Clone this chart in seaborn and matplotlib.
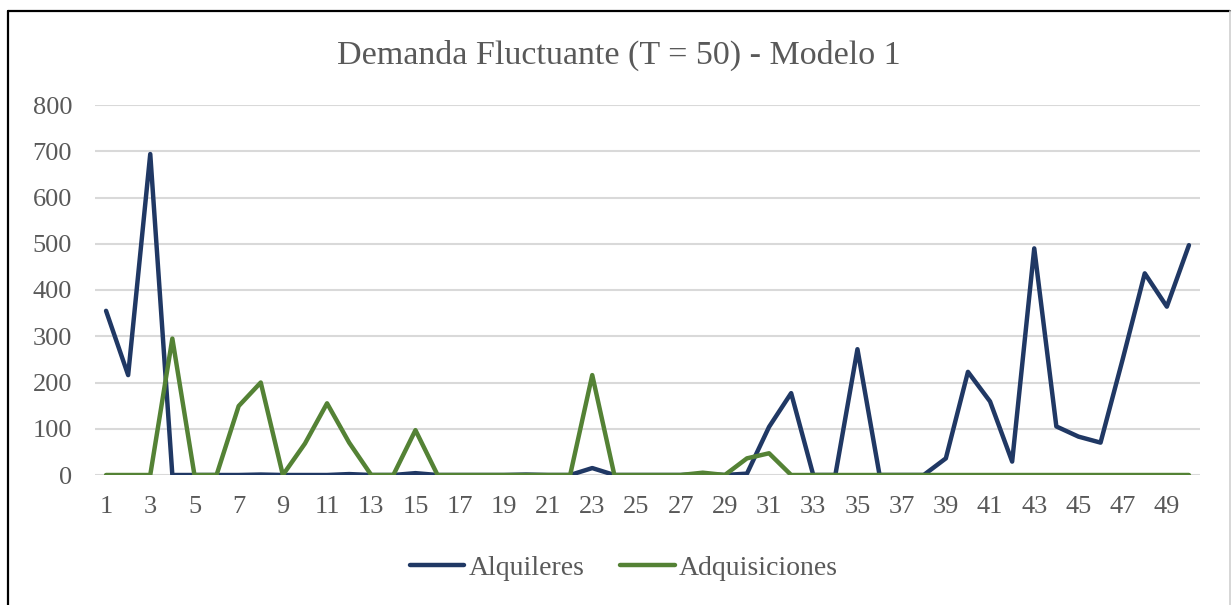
import matplotlib
matplotlib.use("Agg")
import matplotlib.pyplot as plt
from matplotlib.lines import Line2D
import seaborn as sns
import pandas as pd
import numpy as np

periods = list(range(1, 51))
alquileres = [355, 216, 694, 0, 0, 0, 0, 1, 0, 0,
              0, 2, 0, 0, 4, 0, 0, 0, 0, 1,
              0, 0, 15, 0, 0, 0, 0, 2, 0, 3,
              104, 177, 0, 0, 272, 0, 0, 0, 36, 223,
              159, 29, 490, 105, 83, 70, 250, 436, 364, 497]
adquisiciones = [0, 0, 0, 295, 0, 0, 149, 200, 0, 68,
                 155, 70, 0, 0, 97, 0, 0, 0, 0, 0,
                 0, 0, 216, 0, 0, 0, 0, 5, 0, 36,
                 47, 0, 0, 0, 0, 0, 0, 0, 0, 0,
                 0, 0, 0, 0, 0, 0, 0, 0, 0, 0]
series_names = ["Alquileres", "Adquisiciones"]
title = "Demanda Fluctuante (T = 50) - Modelo 1"
yticks = [0, 100, 200, 300, 400, 500, 600, 700, 800]
xtick_labels = [str(p) for p in periods if p % 2 == 1]

df = pd.DataFrame({
    "Periodo": periods * 2,
    "Valor": alquileres + adquisiciones,
    "Serie": [series_names[0]] * len(periods) + [series_names[1]] * len(periods),
})

sns.set_theme(style="white")
plt.rcParams["font.family"] = ["Liberation Serif", "DejaVu Serif"]
text_color = "#595959"

fig = plt.figure(figsize=(12.32, 6.05), dpi=100)
ax = fig.add_axes([95 / 1232, 130 / 605, 1105 / 1232, 370 / 605])

sns.lineplot(data=df, x="Periodo", y="Valor", hue="Serie", ax=ax,
             palette={"Alquileres": "#203864", "Adquisiciones": "#548235"},
             linewidth=3.2, legend=False)

ax.set_xlim(0.5, 50.5)
ax.set_ylim(0, 800)
ax.set_yticks(yticks)
ax.set_yticklabels([str(v) for v in yticks])
ax.set_xticks([p for p in periods if p % 2 == 1])
ax.set_xticklabels(xtick_labels)
ax.set_xlabel("")
ax.set_ylabel("")
ax.grid(axis="y", color="#d9d9d9", linewidth=1.5)
ax.grid(axis="x", visible=False)
ax.set_axisbelow(True)
for s in ax.spines.values():
    s.set_visible(False)
ax.tick_params(axis="both", length=0, labelsize=19, colors=text_color)
ax.tick_params(axis="y", pad=16.5)
ax.tick_params(axis="x", pad=15)

fig.text(619 / 1232, 1 - 55 / 605, title, ha="center", va="center",
         fontsize=24.5, color=text_color)

handles = [Line2D([0], [0], color="#203864", lw=3.2),
           Line2D([0], [0], color="#548235", lw=3.2)]
fig.legend(handles, series_names, loc="center", ncol=2,
           bbox_to_anchor=(624 / 1232, 1 - 568 / 605), frameon=False,
           fontsize=20, labelcolor=text_color, handlelength=1.95,
           handletextpad=0.15, columnspacing=1.3)

# outer frame
fig.add_artist(Line2D([8 / 1232, 8 / 1232], [0, 1 - 11 / 605], color="black", lw=1.6))
fig.add_artist(Line2D([8 / 1232, 1230 / 1232], [1 - 11 / 605, 1 - 11 / 605], color="black", lw=1.6))
fig.add_artist(Line2D([1230 / 1232, 1230 / 1232], [0, 1 - 11 / 605], color="#d0d0d0", lw=1.2))

fig.savefig("out.png", dpi=100)
